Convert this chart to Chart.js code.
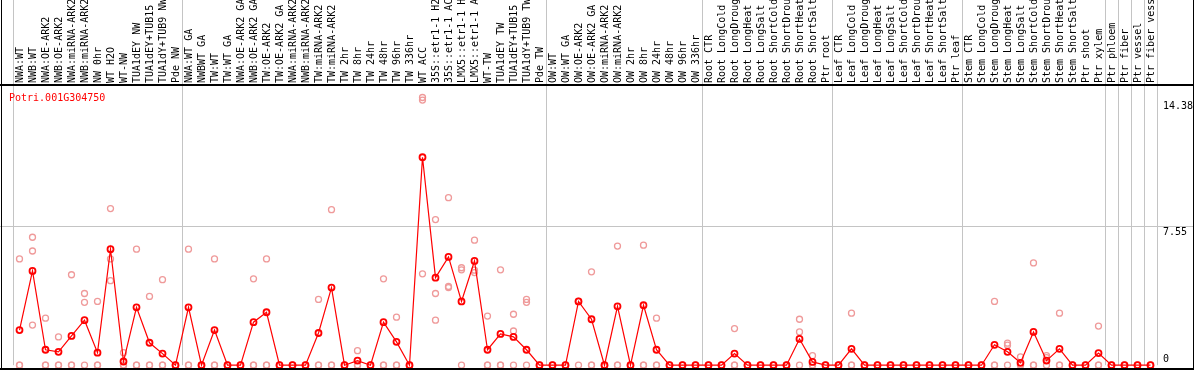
<!DOCTYPE html>
<html>
<head>
<meta charset="utf-8">
<title>Potri.001G304750</title>
<script src="https://cdn.jsdelivr.net/npm/chart.js@4.4.1/dist/chart.umd.min.js"></script>
<style>
  html, body { margin: 0; padding: 0; background: #fff; }
  #wrap { width: 1194px; height: 370px; }
</style>
</head>
<body>
<div id="wrap"><canvas id="expr" width="1194" height="370"></canvas></div>
<script>
const geneId = 'Potri.001G304750';

const samples = [
  // wood / NW
  'NWA:WT', 'NWB:WT', 'NWA:OE-ARK2', 'NWB:OE-ARK2', 'NWA:miRNA-ARK2', 'NWB:miRNA-ARK2',
  'NW 0hr', 'WT H2O', 'WT-NW', 'TUA1dEY NW', 'TUA1dEY+TUB15 NW', 'TUA1dY+TUB9 NW', 'Pde NW',
  // TW
  'NWA:WT GA', 'NWBWT GA', 'TW:WT', 'TW:WT GA', 'NWA:OE-ARK2 GA', 'NWB:OE-ARK2 GA',
  'TW:OE-ARK2', 'TW:OE-ARK2 GA', 'NWA:miRNA-ARK2 GA', 'NWB:miRNA-ARK2 GA', 'TW:miRNA-ARK2',
  'TW:miRNA-ARK2 GA', 'TW 2hr', 'TW 8hr', 'TW 24hr', 'TW 48hr', 'TW 96hr', 'TW 336hr',
  'WT ACC', '35S::etr1-1 H2O', '35S::etr1-1 ACC', 'LMX5::etr1-1 H2O', 'LMX5::etr1-1 ACC',
  'WT-TW', 'TUA1dEY TW', 'TUA1dEY+TUB15 TW', 'TUA1dY+TUB9 TW', 'Pde TW',
  // OW
  'OW:WT', 'OW:WT GA', 'OW:OE-ARK2', 'OW:OE-ARK2 GA', 'OW:miRNA-ARK2', 'OW:miRNA-ARK2 GA',
  'OW 2hr', 'OW 8hr', 'OW 24hr', 'OW 48hr', 'OW 96hr', 'OW 336hr',
  // root
  'Root CTR', 'Root LongCold', 'Root LongDrought', 'Root LongHeat', 'Root LongSalt',
  'Root ShortCold', 'Root ShortDrought', 'Root ShortHeat', 'Root ShortSalt', 'Ptr root',
  // leaf
  'Leaf CTR', 'Leaf LongCold', 'Leaf LongDrought', 'Leaf LongHeat', 'Leaf LongSalt',
  'Leaf ShortCold', 'Leaf ShortDrought', 'Leaf ShortHeat', 'Leaf ShortSalt', 'Ptr leaf',
  // stem
  'Stem CTR', 'Stem LongCold', 'Stem LongDrought', 'Stem LongHeat', 'Stem LongSalt',
  'Stem ShortCold', 'Stem ShortDrought', 'Stem ShortHeat', 'Stem ShortSalt', 'Ptr shoot', 'Ptr xylem',
  // single tissues
  'Ptr phloem', 'Ptr fiber', 'Ptr vessel', 'Ptr fiber vessel'
];

// index of the first sample of each group (last entry = end)
const groupStarts = [0, 13, 41, 53, 63, 73, 84, 85, 86, 87, 88];

const meanValues = [
  1.91, 5.13, 0.84, 0.73, 1.59, 2.45, 0.68, 6.31, 0.20, 3.15, 1.22, 0.63, 0,
  3.15, 0, 1.91, 0, 0, 2.34, 2.88, 0, 0, 0, 1.75, 4.22, 0, 0.25, 0, 2.34, 1.27, 0,
  11.31, 4.76, 5.89, 3.47, 5.67, 0.84, 1.70, 1.54, 0.84, 0,
  0, 0, 3.47, 2.50, 0, 3.20, 0, 3.26, 0.84, 0, 0, 0,
  0, 0, 0.63, 0, 0, 0, 0, 1.43, 0.18, 0,
  0, 0.89, 0, 0, 0, 0, 0, 0, 0, 0,
  0, 0, 1.11, 0.73, 0.13, 1.81, 0.25, 0.89, 0, 0, 0.66,
  0, 0, 0, 0
];

const rep1 = [
  5.78, 6.96, 2.56, 1.54, 4.92, 3.90, 3.47, 8.52, 0.68, 6.31, 3.74, 4.65, 0,
  6.31, 0, 5.78, 0, 0, 4.70, 5.78, 0, 0, 0, 3.58, 8.46, 0, 0.79, 0, 4.70, 2.61, 0,
  14.56, 7.92, 9.11, 5.30, 6.80, 2.67, 5.19, 2.77, 3.58, 0,
  0, 0, 3.47, 5.08, 0, 6.48, 0, 6.53, 2.56, 0, 0, 0,
  0, 0, 1.99, 0, 0, 0, 0, 2.50, 0.52, 0,
  0, 2.83, 0, 0, 0, 0, 0, 0, 0, 0,
  0, 0, 3.47, 1.20, 0.45, 5.56, 0.52, 2.83, 0, 0, 2.13,
  0, 0, 0, 0
];

const rep2 = [
  0, 6.21, 0, 0, 0, 3.42, 0, 5.78, 0, 0, 0, 0, 0,
  0, 0, 0, 0, 0, 0, 0, 0, 0, 0, 0, 0, 0, 0, 0, 0, 0, 0,
  14.42, 3.90, 4.28, 5.19, 5.17, 0, 0, 1.86, 3.42, 0,
  0, 0, 3.47, 0, 0, 0, 0, 0, 0, 0, 0, 0,
  0, 0, 0, 0, 0, 0, 0, 1.81, 0, 0,
  0, 0, 0, 0, 0, 0, 0, 0, 0, 0,
  0, 0, 0, 1.09, 0, 0, 0.41, 0, 0, 0, 0,
  0, 0, 0, 0
];

const rep3 = [
  0, 2.18, 0, 0, 0, 0, 0, 4.60, 0, 0, 0, 0, 0,
  0, 0, 0, 0, 0, 0, 0, 0, 0, 0, 0, 0, 0, 0, 0, 0, 0, 0,
  4.97, 2.45, 4.22, 0, 5.04, 0, 0, 0, 0, 0,
  0, 0, 0, 0, 0, 0, 0, 0, 0, 0, 0, 0,
  0, 0, 0, 0, 0, 0, 0, 0, 0, 0,
  0, 0, 0, 0, 0, 0, 0, 0, 0, 0,
  0, 0, 0, 0, 0, 0, 0, 0, 0, 0, 0,
  0, 0, 0, 0
];

const yTicks = [0, 7.55, 14.38];

const MONO = '"DejaVu Sans Mono", "Liberation Mono", monospace';
const SEP = '#c4c4c4';
const NONE = 'rgba(0,0,0,0)';
const REP = '#ef9a9a';

// frame, right-hand value labels and gene name
const framePlugin = {
  id: 'frame',
  afterDraw(chart) {
    const { ctx, chartArea, scales } = chart;
    const yScale = scales.y;
    const W = chart.width, H = chart.height;
    ctx.save();

    // carry the 7.55 line out to the left edge
    ctx.fillStyle = SEP;
    const mid = Math.round(yScale.getPixelForValue(yTicks[1]));
    ctx.fillRect(0, mid, chartArea.left, 1);

    ctx.fillStyle = '#000';
    ctx.fillRect(1, 0, 1, H);
    ctx.fillRect(W - 1, 0, 1, H);
    ctx.fillRect(0, H - 2, W, 2);
    ctx.fillRect(0, chartArea.top - 1, W, 2);

    ctx.font = '10px ' + MONO;
    ctx.textAlign = 'left';
    ctx.textBaseline = 'alphabetic';
    yScale.ticks.forEach((t) => {
      const py = yScale.getPixelForValue(t.value);
      const nearBottom = py + 10 > chartArea.bottom;
      ctx.fillText(t.label, chartArea.right + 6, nearBottom ? py - 3 : py + 8.5);
    });

    ctx.fillStyle = '#ff0000';
    ctx.fillText(geneId, chartArea.left - 4, chartArea.top + 15.5);
    ctx.restore();
  }
};

const ctx = document.getElementById('expr').getContext('2d');

const repSet = (label, data) => ({
  label: label,
  data: data,
  showLine: false,
  pointRadius: 3,
  pointHoverRadius: 3,
  pointBorderWidth: 1.3,
  pointBorderColor: REP,
  pointBackgroundColor: NONE,
  borderColor: REP,
  clip: false
});

new Chart(ctx, {
  type: 'line',
  data: {
    labels: samples,
    datasets: [
      {
        label: geneId,
        data: meanValues,
        borderColor: '#ff0000',
        borderWidth: 1.2,
        tension: 0,
        pointRadius: 3,
        pointHoverRadius: 3,
        pointBorderWidth: 1.8,
        pointBorderColor: '#ff0000',
        pointBackgroundColor: NONE,
        clip: false
      },
      repSet('rep 1', rep1),
      repSet('rep 2', rep2),
      repSet('rep 3', rep3)
    ]
  },
  options: {
    responsive: false,
    devicePixelRatio: 1,
    animation: false,
    events: [],
    layout: { padding: { left: 13, right: 0, top: 0, bottom: 1 } },
    plugins: {
      legend: { display: false },
      tooltip: { enabled: false }
    },
    scales: {
      x: {
        type: 'category',
        position: 'top',
        offset: true,
        border: { display: false },
        grid: {
          offset: true,
          drawTicks: true,
          tickLength: 85,
          lineWidth: 1,
          color: (c) => (c.index === undefined || groupStarts.includes(c.index)) ? SEP : NONE
        },
        ticks: {
          autoSkip: false,
          minRotation: 90,
          maxRotation: 90,
          padding: -83,
          labelOffset: 12.5,
          color: '#000',
          font: { family: MONO, size: 10 }
        },
        afterFit: (s) => { s.height = 85; }
      },
      y: {
        position: 'right',
        min: 0,
        max: 15.24,
        border: { display: false },
        afterBuildTicks: (s) => { s.ticks = yTicks.map((v) => ({ value: v })); },
        grid: {
          drawTicks: true,
          tickLength: 37,
          color: (c) => (c.tick && c.tick.value === yTicks[1]) ? SEP : NONE
        },
        ticks: { display: false, callback: (v) => String(v) },
        afterFit: (s) => { s.width = 37; }
      }
    }
  },
  plugins: [framePlugin]
});
</script>
</body>
</html>
